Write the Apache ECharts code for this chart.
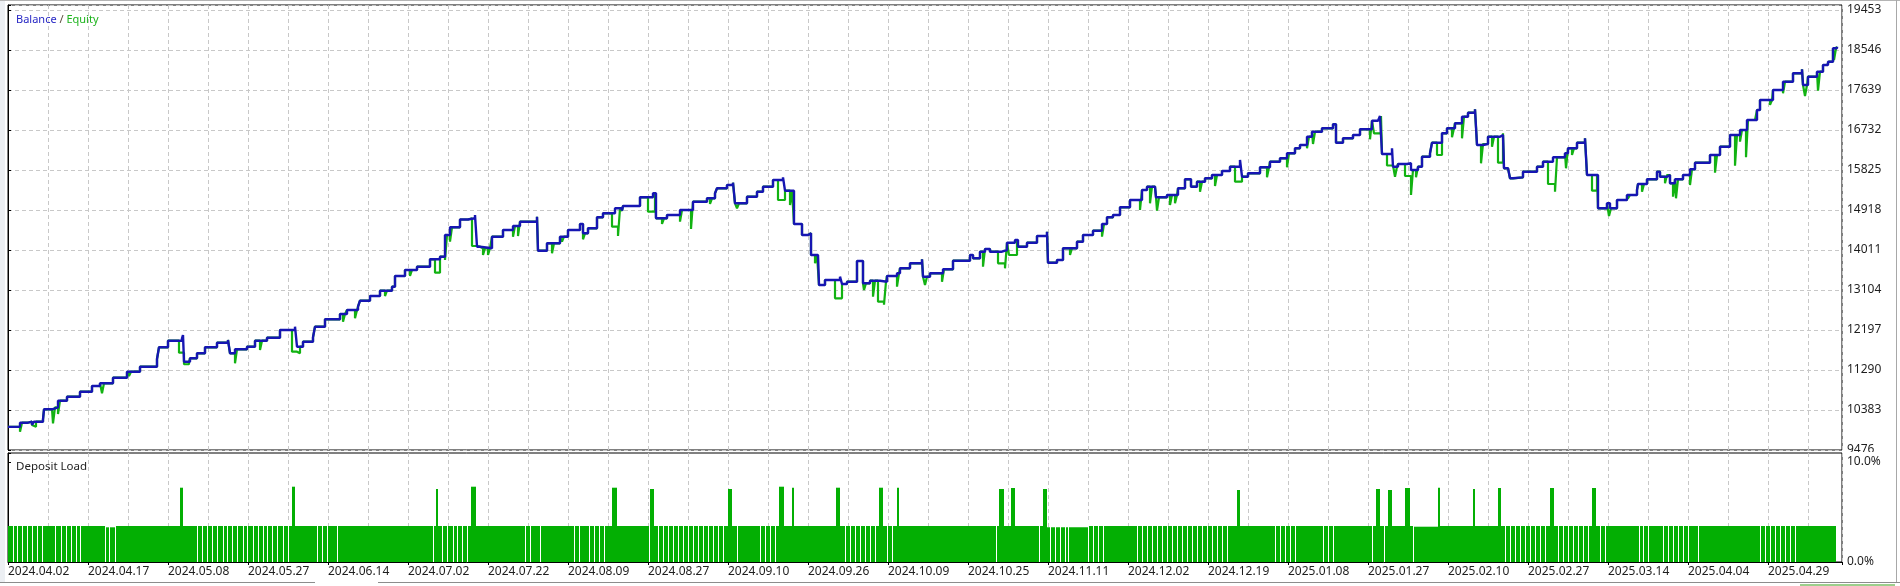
<!DOCTYPE html>
<html lang="en">

<head>
    <meta charset="UTF-8">
    <title>Balance / Equity</title>
    <script src="https://cdn.jsdelivr.net/npm/echarts@6/dist/echarts.min.js"></script>
    <style>
        html, body {
            margin: 0;
            padding: 0;
            background-color: #fff;
        }

        #main {
            width: 1900px;
            height: 586px;
        }
    </style>
</head>

<body>
    <div id="main"></div>

    <script>
        // x is the bar position along the test, 0 .. 1834
        let xMax = 1834;
        let xLabels = ['2024.04.02', '2024.04.17', '2024.05.08', '2024.05.27', '2024.06.14', '2024.07.02',
            '2024.07.22', '2024.08.09', '2024.08.27', '2024.09.10', '2024.09.26', '2024.10.09', '2024.10.25',
            '2024.11.11', '2024.12.02', '2024.12.19', '2025.01.08', '2025.01.27', '2025.02.10', '2025.02.27',
            '2025.03.14', '2025.04.04', '2025.04.29'];
        let yTicks = [9476, 10383, 11290, 12197, 13104, 14011, 14918, 15825, 16732, 17639, 18546, 19453];
        let loadTicks = [0, 10];

        // balance: [x, value], drawn as a step line
        let balance = [[0, 10000], [12, 10095], [20, 10118], [24, 10043], [26, 10118], [35, 10172], [36, 10399],
            [44, 10444], [50, 10594], [59, 10685], [72, 10798], [84, 10927], [92, 10988], [105, 11115], [119, 11251],
            [132, 11365], [149, 11539], [151, 11805], [160, 11954], [174, 12009], [175, 12084], [176, 11478],
            [182, 11555], [189, 11669], [197, 11805], [209, 11909], [220, 11970], [222, 11669], [227, 11759],
            [239, 11818], [247, 11954], [259, 12022], [272, 12197], [287, 12272], [289, 11818], [295, 11932],
            [305, 12031], [307, 12272], [317, 12440], [332, 12560], [339, 12650], [350, 12725], [352, 12861],
            [362, 12968], [372, 13088], [384, 13179], [387, 13421], [397, 13557], [409, 13632], [422, 13800],
            [432, 13859], [437, 14351], [442, 14526], [452, 14703], [460, 14730], [467, 14805], [469, 14086],
            [472, 14050], [484, 14313], [495, 14464], [505, 14555], [512, 14653], [529, 14766], [530, 13995],
            [539, 14163], [552, 14313], [560, 14464], [572, 14601], [575, 14390], [580, 14503], [589, 14752],
            [595, 14843], [607, 14957], [614, 14902], [615, 15009], [632, 15206], [645, 15297], [648, 14730],
            [659, 14805], [672, 14918], [685, 15106], [699, 15183], [707, 15297], [709, 15410], [719, 15485],
            [725, 15537], [727, 15070], [739, 15220], [749, 15333], [755, 15446], [765, 15598], [775, 15659],
            [777, 15356], [786, 14601], [794, 14351], [800, 14390], [803, 13898], [810, 13920], [811, 13217],
            [817, 13331], [832, 13406], [834, 13240], [839, 13292], [849, 13762], [855, 13256], [862, 13315],
            [872, 13292], [879, 13421], [889, 13483], [892, 13596], [902, 13709], [914, 13800], [915, 13406],
            [922, 13483], [935, 13573], [945, 13768], [962, 13898], [965, 13823], [972, 13972], [977, 14034],
            [982, 13972], [994, 14011], [999, 14177], [1007, 14238], [1010, 14086], [1019, 14177], [1029, 14328],
            [1039, 14426], [1040, 13723], [1049, 13784], [1055, 14050], [1069, 14199], [1075, 14351], [1085, 14449],
            [1094, 14601], [1099, 14752], [1105, 14805], [1112, 14979], [1122, 15145], [1134, 15371], [1139, 15446],
            [1147, 15485], [1148, 15206], [1159, 15258], [1170, 15410], [1177, 15614], [1183, 15446], [1189, 15560],
            [1197, 15637], [1204, 15712], [1214, 15802], [1222, 15900], [1232, 16052], [1234, 15673], [1240, 15750],
            [1252, 15886], [1262, 16013], [1272, 16090], [1279, 16204], [1287, 16317], [1292, 16392], [1299, 16580],
            [1304, 16693], [1314, 16771], [1325, 16861], [1328, 16444], [1335, 16544], [1345, 16619], [1352, 16748],
            [1364, 16943], [1370, 16975], [1372, 17049], [1374, 16188], [1384, 16317], [1385, 15900], [1390, 15961],
            [1399, 15977], [1403, 15825], [1410, 15900], [1414, 16127], [1422, 16204], [1424, 16444], [1434, 16657],
            [1439, 16771], [1447, 16884], [1454, 17034], [1460, 17124], [1467, 17201], [1469, 16392], [1475, 16415],
            [1480, 16580], [1492, 16619], [1495, 16657], [1496, 15864], [1500, 15841], [1502, 15637], [1505, 15659],
            [1515, 15786], [1529, 15900], [1535, 16013], [1545, 16113], [1557, 16204], [1560, 16317], [1569, 16444],
            [1577, 16544], [1579, 15712], [1590, 14957], [1599, 15070], [1602, 14957], [1609, 15145], [1619, 15258],
            [1629, 15371], [1630, 15508], [1639, 15614], [1649, 15786], [1652, 15673], [1659, 15712], [1662, 15523],
            [1667, 15614], [1675, 15712], [1682, 15841], [1687, 15991], [1702, 16165], [1712, 16353], [1722, 16619],
            [1732, 16732], [1739, 16959], [1749, 17185], [1752, 17412], [1765, 17639], [1775, 17827], [1785, 18018],
            [1794, 18108], [1795, 17752], [1800, 17941], [1809, 18054], [1815, 18206], [1820, 18281], [1825, 18585],
            [1829, 18621]];

        // equity drops below balance: [from x, to x, equity value]
        let equityDips = [[12, 14, 9891], [26, 28, 10004], [45, 47, 10081], [50, 52, 10292], [94, 96, 10762],
            [121, 123, 11154], [171, 176, 11682], [176, 181, 11420], [227, 229, 11442], [252, 254, 11743],
            [284, 289, 11705], [289, 292, 11669], [335, 337, 12386], [347, 349, 12462], [377, 379, 12968],
            [402, 404, 13421], [417, 419, 13596], [427, 432, 13496], [437, 439, 13784], [442, 444, 14199],
            [464, 469, 14102], [475, 477, 13898], [480, 482, 13898], [505, 507, 14313], [510, 512, 14328],
            [544, 546, 13936], [554, 556, 14199], [575, 577, 14254], [604, 610, 14539], [610, 612, 14328],
            [640, 647, 14879], [654, 656, 14601], [672, 674, 14653], [683, 685, 14487], [702, 704, 15054],
            [729, 731, 14957], [770, 777, 15145], [782, 784, 15031], [807, 809, 13709], [827, 834, 12916],
            [856, 858, 13104], [865, 867, 12952], [870, 876, 12839], [876, 878, 12771], [889, 891, 13179],
            [917, 919, 13217], [934, 936, 13292], [975, 977, 13632], [990, 997, 13709], [997, 999, 13596],
            [1001, 1009, 13898], [1062, 1064, 13898], [1094, 1096, 14313], [1132, 1134, 14918], [1142, 1144, 15070],
            [1149, 1151, 14902], [1162, 1164, 15031], [1167, 1169, 15070], [1192, 1194, 15333], [1207, 1209, 15462],
            [1227, 1234, 15560], [1259, 1261, 15659], [1279, 1281, 15886], [1299, 1301, 16317], [1305, 1307, 16415],
            [1362, 1364, 16521], [1366, 1373, 16657], [1379, 1385, 15927], [1387, 1389, 15673], [1397, 1403, 15689],
            [1403, 1405, 15258], [1408, 1410, 15659], [1429, 1434, 16165], [1444, 1446, 16566], [1454, 1456, 16544],
            [1473, 1475, 15977], [1484, 1486, 16353], [1490, 1495, 15991], [1540, 1547, 15508], [1547, 1549, 15333],
            [1558, 1560, 15864], [1564, 1566, 16165], [1584, 1589, 15356], [1601, 1603, 14782], [1615, 1617, 15145],
            [1620, 1622, 15183], [1634, 1636, 15333], [1657, 1659, 15523], [1665, 1667, 15220], [1668, 1670, 15183],
            [1682, 1684, 15485], [1707, 1709, 15764], [1727, 1729, 15922], [1732, 1734, 16467], [1738, 1740, 16113],
            [1747, 1749, 16920], [1762, 1764, 17300], [1775, 1777, 17564], [1797, 1799, 17503], [1810, 1812, 17623],
            [1819, 1821, 18167], [1826, 1828, 18319]];

        // deposit load (%): base runs [from x, to x, load], spikes [from x, to x, load], 1px gaps at x
        let loadRuns = [[0, 97, 3.6], [97, 108, 3.47], [108, 1038, 3.6], [1038, 1080, 3.47], [1080, 1405, 3.6],
            [1405, 1430, 3.53], [1430, 1828, 3.6]];
        let loadSpikes = [[172, 175, 7.43], [284, 287, 7.53], [428, 430, 7.3], [463, 468, 7.53], [604, 609, 7.43],
            [642, 646, 7.3], [720, 724, 7.3], [771, 776, 7.53], [784, 786, 7.43], [828, 832, 7.43], [871, 875, 7.43],
            [889, 891, 7.43], [991, 996, 7.3], [1003, 1007, 7.4], [1035, 1039, 7.3], [1229, 1232, 7.2],
            [1368, 1372, 7.3], [1380, 1384, 7.2], [1397, 1402, 7.4], [1430, 1432, 7.43], [1465, 1467, 7.3],
            [1490, 1493, 7.4], [1542, 1546, 7.4], [1584, 1588, 7.4]];
        let loadGaps = [5, 9, 14, 19, 24, 29, 34, 47, 53, 58, 63, 68, 72, 97, 101, 107, 189, 194, 199, 204, 209,
            215, 219, 224, 229, 235, 239, 245, 250, 255, 259, 264, 269, 275, 280, 309, 314, 319, 329, 425, 434, 439,
            445, 449, 454, 459, 517, 522, 532, 566, 571, 581, 586, 591, 596, 641, 650, 655, 660, 665, 670, 675, 680,
            685, 690, 695, 700, 705, 710, 715, 729, 752, 757, 762, 767, 837, 842, 847, 852, 857, 862, 867, 879, 884,
            988, 1031, 1042, 1047, 1052, 1057, 1060, 1080, 1085, 1090, 1095, 1129, 1134, 1139, 1144, 1149, 1154,
            1159, 1164, 1169, 1174, 1179, 1184, 1189, 1194, 1199, 1204, 1209, 1214, 1219, 1267, 1272, 1277, 1282,
            1287, 1315, 1320, 1325, 1364, 1376, 1405, 1497, 1502, 1507, 1512, 1517, 1522, 1527, 1532, 1537, 1550,
            1555, 1560, 1565, 1570, 1575, 1580, 1592, 1597, 1631, 1635, 1640, 1655, 1660, 1665, 1670, 1675, 1680,
            1690, 1752, 1757, 1762, 1767, 1772, 1777, 1782, 1787];

        // equity line = balance, except where a dip is listed
        function balanceAt(x) {
            let v = balance[0][1];
            for (let i = 0; i < balance.length; i++) {
                if (balance[i][0] <= x) v = balance[i][1];
                else break;
            }
            return v;
        }
        let equity = [];
        balance.forEach(p => {
            let inDip = equityDips.some(d => p[0] >= d[0] && p[0] < d[1]);
            if (!inDip) equity.push([p[0], p[1]]);
        });
        equityDips.forEach(d => {
            equity.push([d[0], d[2]]);
            if (!equityDips.some(e => e[0] === d[1])) equity.push([d[1], balanceAt(d[1])]);
        });
        equity.sort((a, b) => a[0] - b[0]);

        let font = 'Noto Sans';
        let gridLine = { show: true, lineStyle: { color: '#c8c8c8', type: [4, 3], width: 1 } };

        function rectItem(params, api) {
            let p0 = api.coord([api.value(0), api.value(2)]);
            let p1 = api.coord([api.value(1), 0]);
            return {
                type: 'rect',
                shape: { x: p0[0], y: p0[1], width: p1[0] - p0[0], height: p1[1] - p0[1] },
                style: { fill: api.visual('color') }
            };
        }

        function gapItem(params, api) {
            let p0 = api.coord([api.value(0), 4.2]);
            let p1 = api.coord([api.value(0), 0]);
            return {
                type: 'rect',
                shape: { x: p0[0], y: p0[1], width: 1, height: p1[1] - p0[1] },
                style: { fill: '#ffffff' }
            };
        }

        let myChart = echarts.init(document.getElementById('main'), null, { renderer: 'canvas' });

        let option = {
            animation: false,
            backgroundColor: '#ffffff',
            textStyle: { fontFamily: font },
            title: [
                {
                    text: '{b|Balance} {s|/} {e|Equity}',
                    left: 11,
                    top: 9,
                    textStyle: {
                        fontFamily: font,
                        fontSize: 11,
                        fontWeight: 'normal',
                        rich: {
                            b: { color: '#2626c4', fontFamily: font, fontSize: 11 },
                            s: { color: '#5a4a3a', fontFamily: font, fontSize: 11 },
                            e: { color: '#1eb41e', fontFamily: font, fontSize: 11 }
                        }
                    }
                },
                {
                    text: 'Deposit Load',
                    left: 11,
                    top: 456,
                    textStyle: { fontFamily: font, fontSize: 11.5, fontWeight: 'normal', color: '#222' }
                }
            ],
            grid: [
                { left: 8, right: 58, top: 5, height: 445, show: true, borderColor: '#000', borderWidth: 1 },
                { left: 8, right: 58, top: 453, height: 109, show: true, borderColor: '#000', borderWidth: 1 }
            ],
            xAxis: [
                {
                    gridIndex: 0, type: 'value', min: 0, max: xMax, interval: 40,
                    axisLine: { show: false }, axisTick: { show: false }, axisLabel: { show: false },
                    splitLine: gridLine
                },
                {
                    gridIndex: 1, type: 'value', min: 0, max: xMax, interval: 40, position: 'top',
                    axisLine: { show: false }, axisTick: { show: false }, axisLabel: { show: false },
                    splitLine: gridLine
                },
                {
                    gridIndex: 1, type: 'value', min: 0, max: xMax, interval: 80, position: 'bottom',
                    axisLine: { show: true, lineStyle: { color: '#000' } },
                    axisTick: { show: true, length: 3, lineStyle: { color: '#000' } },
                    splitLine: { show: false },
                    axisLabel: {
                        show: true, align: 'left', margin: 4, color: '#1e1e1e', fontFamily: font, fontSize: 12,
                        formatter: v => (v % 80 === 0 && xLabels[v / 80]) ? xLabels[v / 80] : ''
                    }
                }
            ],
            yAxis: [
                {
                    gridIndex: 0, type: 'value', position: 'right',
                    min: yTicks[0], max: yTicks[0] + 445 / 40 * 907, interval: 907,
                    axisLine: { show: true, lineStyle: { color: '#000' } },
                    axisTick: { show: true, length: 3, lineStyle: { color: '#000' } },
                    splitLine: gridLine,
                    axisLabel: {
                        margin: 5, color: '#1e1e1e', fontFamily: font, fontSize: 12,
                        formatter: v => yTicks.indexOf(Math.round(v)) >= 0 ? String(Math.round(v)) : ''
                    }
                },
                {
                    gridIndex: 1, type: 'value', position: 'right', min: 0, max: 10.9, interval: 10,
                    axisLine: { show: true, lineStyle: { color: '#000' } },
                    axisTick: { show: true, length: 3, lineStyle: { color: '#000' } },
                    splitLine: { show: false },
                    axisLabel: {
                        margin: 5, color: '#1e1e1e', fontFamily: font, fontSize: 12,
                        formatter: v => loadTicks.indexOf(v) >= 0 ? v.toFixed(1) + '%' : ''
                    }
                }
            ],
            series: [
                {
                    name: 'Equity', type: 'line', step: 'end', xAxisIndex: 0, yAxisIndex: 0,
                    data: equity, showSymbol: false, symbol: 'none', z: 2,
                    lineStyle: { color: '#12b212', width: 2.2 }, itemStyle: { color: '#12b212' }
                },
                {
                    name: 'Balance', type: 'line', step: 'end', xAxisIndex: 0, yAxisIndex: 0,
                    data: balance, showSymbol: false, symbol: 'none', z: 3,
                    lineStyle: { color: '#1616b2', width: 2.4 }, itemStyle: { color: '#1616b2' }
                },
                {
                    name: 'Deposit Load', type: 'custom', xAxisIndex: 2, yAxisIndex: 1,
                    data: loadRuns.concat(loadSpikes), renderItem: rectItem,
                    encode: { x: [0, 1], y: 2 }, itemStyle: { color: '#03af03' }, z: 2
                },
                {
                    name: 'gaps', type: 'custom', xAxisIndex: 2, yAxisIndex: 1,
                    data: loadGaps.map(g => [g]), renderItem: gapItem,
                    encode: { x: 0 }, z: 3
                }
            ],
            graphic: [
                { type: 'rect', z: 100, shape: { x: 0, y: 0, width: 1900, height: 1 }, style: { fill: '#b4b4b4' } },
                { type: 'rect', z: 100, shape: { x: 0, y: 1, width: 5, height: 581 }, style: { fill: '#eceff3' } },
                { type: 'rect', z: 100, shape: { x: 1896, y: 0, width: 1, height: 583 }, style: { fill: '#a8a8a8' } },
                { type: 'rect', z: 100, shape: { x: 1843, y: 452, width: 52, height: 3 }, style: { fill: '#ffffff' } },
                { type: 'rect', z: 100, shape: { x: 0, y: 582, width: 315, height: 1 }, style: { fill: '#8c8c8c' } },
                { type: 'rect', z: 100, shape: { x: 378, y: 582, width: 1522, height: 1 }, style: { fill: '#8c8c8c' } },
                { type: 'rect', z: 100, shape: { x: 1800, y: 584, width: 95, height: 2 }, style: { fill: '#9ccf8c' } }
            ]
        };

        myChart.setOption(option);
    </script>

</body>

</html>
